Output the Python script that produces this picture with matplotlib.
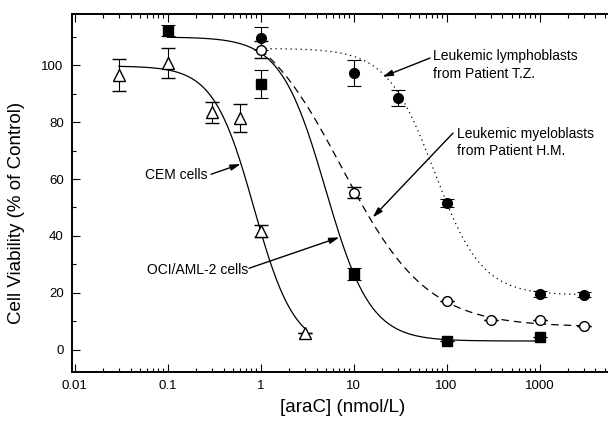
import numpy as np
import matplotlib
matplotlib.use('Agg')
import matplotlib.pyplot as plt
from matplotlib.ticker import MultipleLocator, LogLocator, NullFormatter

plt.rcParams['font.family'] = ['Liberation Sans', 'DejaVu Sans']

# CEM cells (open triangles)
cem_x = [0.03, 0.1, 0.3, 0.6, 1, 3]
cem_y = [96.5, 100.7, 83.5, 81.4, 41.7, 6.0]
cem_err = [5.6, 5.3, 3.7, 4.9, 2.2, 0]

# OCI/AML-2 cells (filled squares)
oci_x = [0.1, 1, 10, 100, 1000]
oci_y = [112.2, 93.4, 26.6, 2.9, 4.4]
oci_err = [2, 5, 2, 0, 0]

# Leukemic lymphoblasts, patient T.Z. (filled circles)
tz_x = [1, 10, 30, 100, 1000, 3000]
tz_y = [109.5, 97.4, 88.4, 51.6, 19.6, 19.3]
tz_err = [4, 4.5, 2.8, 1.5, 1, 0.8]

# Leukemic myeloblasts, patient H.M. (open circles)
hm_x = [1, 10, 100, 300, 1000, 3000]
hm_y = [105.6, 55.2, 17.0, 10.5, 10.5, 8.2]
hm_err = [3, 2, 0, 0, 0, 0]

# sigmoid fit parameters: top, bottom, IC50, slope, x from, x to
cem_fit = [99.8, 0, 0.85, 2.0, 0.03, 3]
oci_fit = [110, 3, 5.0, 1.8, 0.1, 1000]
tz_fit = [106, 19.2, 74, 1.7, 1, 3000]
hm_fit = [120, 8, 7.5, 0.95, 1, 3000]

xticks = [0.01, 0.1, 1, 10, 100, 1000]
xtick_labels = ['0.01', '0.1', '1', '10', '100', '1000']


def fit_curve(p):
    top, bottom, ic50, n, x0, x1 = p
    x = np.logspace(np.log10(x0), np.log10(x1), 300)
    return x, bottom + (top - bottom) / (1 + (x / ic50) ** n)


fig = plt.figure(figsize=(6.08, 4.22), dpi=100)
ax = fig.add_axes([72 / 608, 50 / 422, 542 / 608, 358 / 422])
ax.set_xscale('log')

lw = 0.9
x, y = fit_curve(cem_fit)
ax.plot(x, y, color='black', lw=lw)
x, y = fit_curve(oci_fit)
ax.plot(x, y, color='black', lw=lw)
x, y = fit_curve(tz_fit)
ax.plot(x, y, color='black', lw=lw, linestyle=(0, (1, 3)))
x, y = fit_curve(hm_fit)
ax.plot(x, y, color='black', lw=lw, linestyle=(0, (6, 4)))

eb = dict(ecolor='black', elinewidth=0.8, capsize=5, capthick=0.8, linestyle='none')
ax.errorbar(cem_x, cem_y, yerr=cem_err, fmt='^', mfc='white', mec='black', mew=1,
            markersize=8, zorder=5, **eb)
ax.errorbar(oci_x, oci_y, yerr=oci_err, fmt='s', mfc='black', mec='black',
            markersize=7, zorder=5, **eb)
ax.errorbar(tz_x, tz_y, yerr=tz_err, fmt='o', mfc='black', mec='black',
            markersize=7, zorder=5, **eb)
ax.errorbar(hm_x, hm_y, yerr=hm_err, fmt='o', mfc='white', mec='black', mew=1,
            markersize=7, zorder=6, **eb)

arrow = dict(arrowstyle='-|>,head_length=0.6,head_width=0.18', color='black', lw=1,
             shrinkA=0, shrinkB=0)
fs = 10
ax.text(71.6, 100.1, 'Leukemic lymphoblasts\nfrom Patient T.Z.', fontsize=fs,
        ha='left', va='center', linespacing=1.3)
ax.annotate('', xy=(20.6, 96.0), xytext=(66.5, 102.6), arrowprops=arrow)

ax.text(129, 72.9, 'Leukemic myeloblasts\nfrom Patient H.M.', fontsize=fs,
        ha='left', va='center', linespacing=1.3)
ax.annotate('', xy=(16.1, 46.5), xytext=(117.5, 76.2), arrowprops=arrow)

ax.text(0.272, 61.4, 'CEM cells', fontsize=fs, ha='right', va='center')
ax.annotate('', xy=(0.612, 65.3), xytext=(0.294, 61.7), arrowprops=arrow)

ax.text(0.734, 27.9, 'OCI/AML-2 cells', fontsize=fs, ha='right', va='center')
ax.annotate('', xy=(7.04, 39.5), xytext=(0.752, 28.6), arrowprops=arrow)

ax.set_xlim(10 ** -2.027, 10 ** 3.801)
ax.set_ylim(-7.9, 118.1)

ax.set_xticks(xticks)
ax.set_xticklabels(xtick_labels)
ax.xaxis.set_minor_locator(LogLocator(base=10, subs=np.arange(2, 10)))
ax.xaxis.set_minor_formatter(NullFormatter())
ax.yaxis.set_major_locator(MultipleLocator(20))
ax.yaxis.set_minor_locator(MultipleLocator(10))
ax.set_yticks([0, 20, 40, 60, 80, 100])

ax.tick_params(which='both', direction='in', top=True, right=False, width=0.8,
               labelsize=9.5, pad=6)
ax.tick_params(which='major', length=5.5)
ax.tick_params(which='minor', length=3)
for s in ['left', 'bottom', 'top']:
    ax.spines[s].set_linewidth(1.4)
ax.spines['right'].set_visible(False)

ax.set_xlabel('[araC] (nmol/L)', fontsize=13.5, labelpad=5)
ax.set_ylabel('Cell Viability (% of Control)', fontsize=13.5)
ax.yaxis.set_label_coords(-47 / 542, 0.444)

fig.savefig('out.png', dpi=100)
